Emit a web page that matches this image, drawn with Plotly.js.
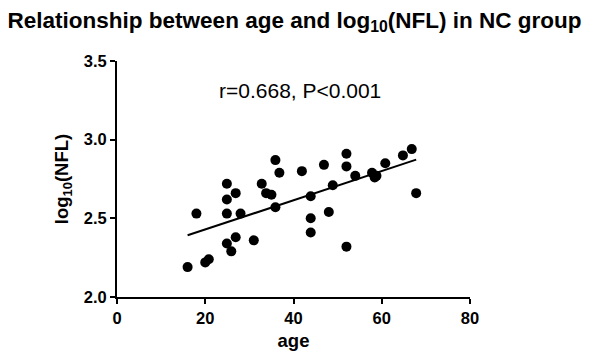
<!DOCTYPE html>
<html><head><meta charset="utf-8">
<script src="https://cdn.plot.ly/plotly-3.0.1.min.js"></script>
<style>html,body{margin:0;padding:0;background:#fff;}#chart{width:589px;height:361px;}</style>
</head><body><div id="chart"></div>
<script>
const age = [16, 18, 20, 20.8, 24.9, 24.9, 24.9, 24.9, 25.9, 26.9, 26.9, 28, 31, 32.8, 33.8, 35, 35.9, 36.8, 35.9, 41.9, 46.9, 52, 52, 54, 57.8, 58.4, 58.8, 60.8, 64.8, 66.8, 67.8, 43.9, 48.9, 43.9, 43.9, 48, 52];
const lognfl = [2.19, 2.53, 2.22, 2.24, 2.72, 2.62, 2.53, 2.34, 2.29, 2.66, 2.38, 2.53, 2.36, 2.72, 2.66, 2.65, 2.87, 2.79, 2.57, 2.80, 2.84, 2.91, 2.83, 2.77, 2.79, 2.76, 2.77, 2.85, 2.90, 2.94, 2.66, 2.64, 2.71, 2.50, 2.41, 2.54, 2.32];
const xTicks = [0, 20, 40, 60, 80];
const yTicks = [2.0, 2.5, 3.0, 3.5];
const statText = "r=0.668, P<0.001";

// least squares fit from data
const n = age.length;
const mx = age.reduce((a,b)=>a+b,0)/n, my = lognfl.reduce((a,b)=>a+b,0)/n;
let sxy=0, sxx=0;
for (let i=0;i<n;i++){sxy+=(age[i]-mx)*(lognfl[i]-my); sxx+=(age[i]-mx)**2;}
const slope = sxy/sxx, icpt = my - slope*mx;
const xmin = Math.min(...age), xmax = Math.max(...age);
const fitX = [xmin, xmax], fitY = fitX.map(v=>icpt+slope*v);

const font = {family: '"Liberation Sans", Arial, sans-serif', color: '#000'};
const data = [
  {x: age, y: lognfl, type: 'scatter', mode: 'markers', marker: {color: '#000', size: 10}, cliponaxis: false, hoverinfo: 'none'},
  {x: fitX, y: fitY, type: 'scatter', mode: 'lines', line: {color: '#000', width: 2}, cliponaxis: false, hoverinfo: 'none'}
];
const layout = {
  width: 589, height: 361,
  margin: {l: 117, r: 119, t: 61, b: 64},
  paper_bgcolor: '#fff', plot_bgcolor: '#fff',
  showlegend: false,
  font: font,
  title: {text: '<b>Relationship between age and log<sub>10</sub>(NFL) in NC group</b>', font: {...font, size: 22.5}, x: 0.5, xanchor: 'center', y: 0.945, yanchor: 'middle'},
  xaxis: {range: [0, 80], tickvals: xTicks, ticktext: xTicks.map(v=>'<b>'+v+'</b>'), showgrid: false, zeroline: false,
    showline: true, linecolor: '#000', linewidth: 2, ticks: 'outside', ticklen: 5, tickwidth: 2, tickcolor: '#000',
    tickfont: {...font, size: 16.5},
    title: {text: '<b>age</b>', font: {...font, size: 18.5}, standoff: 8}},
  yaxis: {range: [2.0, 3.5], tickvals: yTicks, ticktext: yTicks.map(v=>'<b>'+v.toFixed(1)+'</b>'), showgrid: false, zeroline: false,
    showline: true, linecolor: '#000', linewidth: 2, ticks: 'outside', ticklen: 5, tickwidth: 2, tickcolor: '#000',
    tickfont: {...font, size: 16.5},
    title: {text: '<b>log<sub>10</sub>(NFL)</b>', font: {...font, size: 18.5}, standoff: 10}},
  annotations: [{text: statText, xref: 'paper', yref: 'paper', x: 0.518, y: 0.873, showarrow: false, font: {...font, size: 21}, xanchor: 'center', yanchor: 'middle'}]
};
Plotly.newPlot('chart', data, layout, {displayModeBar: false, staticPlot: true});
</script></body></html>
